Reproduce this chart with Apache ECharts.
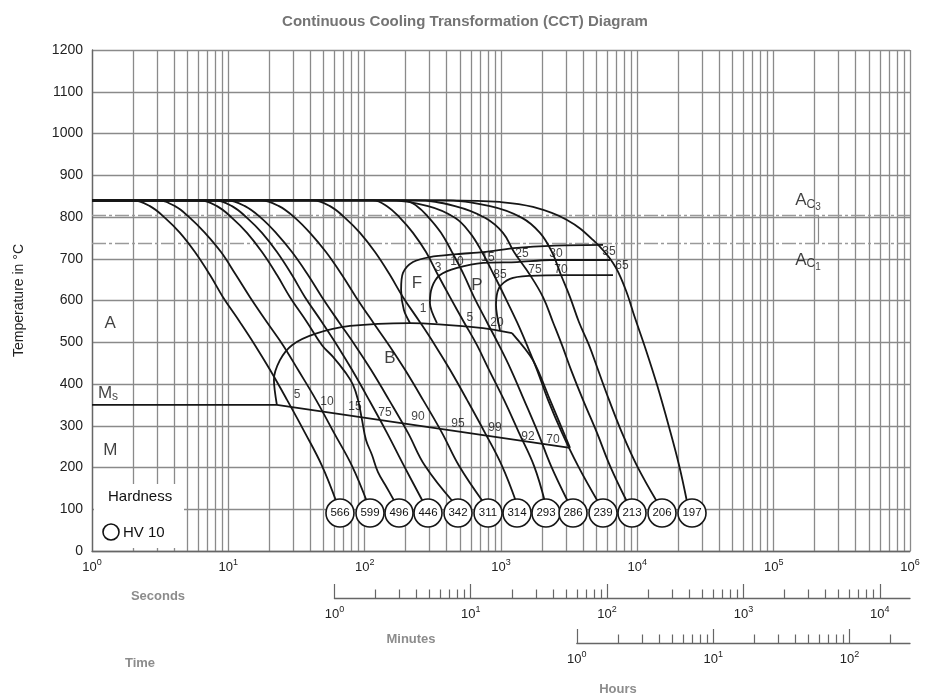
<!DOCTYPE html>
<html>
<head>
<meta charset="utf-8">
<script src="https://cdn.jsdelivr.net/npm/echarts@6.0.0/dist/echarts.min.js"></script>
<style>
html,body{margin:0;padding:0;background:#fff;}
#chart{width:930px;height:700px;}
</style>
</head>
<body>
<div id="chart"></div>
<script>
// ---------------- data ----------------
const chartTitle = 'Continuous Cooling Transformation (CCT) Diagram';
const yAxisTitle = 'Temperature in °C';
const tempMin = 0, tempMax = 1200, tempStep = 100;
const timeMin = 1, timeMax = 1e6;
const secondsPerMinute = 60, secondsPerHour = 3600;
const mantissas = [2, 3, 4, 5, 6, 7, 8, 9];

// hardness HV10 at the end of every cooling curve
const hardnessValues = [566, 599, 496, 446, 342, 311, 314, 293, 286, 239, 213, 206, 197];
const hardnessTimes = [65.9, 109.4, 178.6, 291.5, 483.7, 802.9, 1311, 2138, 3375, 5602, 9141, 15172, 25180];
const hardnessTemp = 91;

// cooling curves [time s, temperature °C]
const curve566 = [[1,840],[2.00,840],[2.66,826],[3.43,798],[4.42,762],[5.69,716],[7.34,661],[9.14,608],[12.18,548],[15.69,493],[20.21,434],[26.94,362],[36.51,283],[48.65,204],[62.0,118]];
const curve599 = [[1,840],[3.00,840],[4.06,826],[5.23,798],[6.74,762],[8.84,716],[11.38,661],[14.42,608],[19.21,548],[25.18,493],[32.44,434],[43.97,362],[59.60,283],[80.74,204],[104,118]];
const curve496 = [[1,840],[6.20,840],[8.26,826],[10.64,798],[13.71,762],[17.66,716],[22.75,661],[28.34,608],[37.77,548],[48.65,493],[58.6,465],[71.74,429],[82.14,398],[89.37,362],[95.61,314],[102.3,266],[113.2,230],[125.2,189],[145.8,151],[166,118]];
const curve446 = [[1,840],[7.98,840],[10.64,826],[13.71,798],[17.66,762],[22.75,716],[29.31,661],[36.51,608],[48.65,548],[62.69,493],[80.74,434],[107.6,362],[145.8,283],[194.3,204],[267.9,118]];
const curve342 = [[1,840],[9.78,840],[13.25,826],[17.37,798],[22.37,762],[29.31,716],[38.41,661],[48.65,608],[64.83,548],[84.95,493],[111.3,434],[150.8,362],[207.9,283],[277.1,204],[444.6,118]];
const curve311 = [[1,840],[17.37,840],[23.53,826],[30.83,798],[39.72,762],[52.05,716],[68.20,661],[86.41,608],[115.1,548],[150.8,493],[197.7,434],[267.9,362],[369.3,283],[492.0,204],[738.0,118]];
const curve314 = [[1,840],[41.80,840],[55.69,826],[71.74,798],[92.44,762],[119.1,716],[153.4,661],[191.1,608],[254.6,548],[328.0,493],[422.7,434],[563.2,362],[763.3,283],[1017,204],[1290,118]];
const curve293 = [[1,840],[115.1,840],[145.8,826],[181.6,798],[226.2,762],[281.8,716],[345.1,661],[422.7,608],[535.3,548],[666.8,493],[816.6,434],[1052,362],[1356,283],[1747,204],[2100,118]];
const curve286 = [[1,840],[194.3,840],[242.0,826],[296.4,798],[363.1,762],[437.1,716],[535.3,661],[633.9,608],[789.5,548],[967.0,493],[1184,434],[1475,362],[1869,283],[2327,204],[3102,118]];
const curve239 = [[1,840],[141.0,840],[291.5,826],[459.8,798],[592.5,762],[725.7,716],[888.5,661],[1070,608],[1311,548],[1551,493],[1837,434],[2212,362],[2803,283],[3672,204],[5147,118]];
const curve213 = [[1,840],[234.0,840],[459.8,826],[763.3,798],[1034,762],[1246,716],[1633,661],[2033,608],[2407,548],[2803,493],[3263,434],[3995,362],[5061,283],[6304,204],[8402,118]];
const curve206 = [[1,840],[357.0,840],[830.5,826],[1426,798],[1932,762],[2366,716],[2755,661],[3208,608],[3735,548],[4422,493],[5147,434],[6200,362],[7720,283],[9945,204],[13945,118]];
const curve197 = [[1,840],[422.7,840],[983.3,836],[1717,824],[3049,793],[4730,745],[6630,690],[8120,630],[9616,558],[11578,481],[13945,398],[17078,297],[20220,206],[23140,118]];
const coolingCurves = [curve566, curve599, curve496, curve446, curve342, curve311, curve314, curve293, curve286, curve239, curve213, curve206, curve197];

// transformation lines
const ac3Temp = 805, ac1Temp = 738;
const acMarkerTime = 211500;
const msLine = [[1,350],[22.7,350],[3208,247]];
const bainiteStart = [[22.7,350],[21.6,410],[23.9,457],[29.3,493],[43.2,520],[78.1,539],[215,546],[738,534],[1204,522]];
const bainiteEnd = [[1204,522],[1717,457],[2288,362],[3208,247]];
const ferriteStart = [[215,546],[194,577],[185,625],[191,666],[226,692],[301,704],[476,711],[738,716],[1311,726],[2288,731],[5602,733]];
const pearliteStart = [[339,546],[301,594],[312,632],[357,661],[476,678],[738,690],[1311,692],[2288,697],[6304,697]];
const pearliteFinish = [[983,529],[919,589],[967,630],[1164,652],[1633,659],[3049,661],[6630,661]];

// percentage labels
const ferriteLabels = ['1','3','10','15','25','30','35'];
const ferriteLabelTimes = [267.9, 345, 476, 803, 1426, 2532, 6197];
const ferriteLabelTemps = [580, 678, 692, 702, 711, 711, 718];
const pearliteLabels = ['5','20','85','75','70','65'];
const pearliteLabelTimes = [592, 935, 983, 1776, 2755, 7720];
const pearliteLabelTemps = [560, 548, 663, 673, 673, 683];
const msLabels = ['5','10','15','75','90','95','99','92','70'];
const msLabelTimes = [31.9, 52.9, 84.9, 141, 246, 484, 904, 1578, 2407];
const msLabelTemps = [374, 357, 345, 331, 321, 304, 295, 275, 266];
// phase region labels
const regionLabels = ['A', '{m|M}{s|s}', 'M', 'B', 'F', 'P', '{m|A}{c|C}{n|3}', '{m|A}{c|C}{n|1}'];
const regionTimes = [1.36, 1.31, 1.36, 153, 242, 667, 178600, 178600];
const regionTemps = [546, 378, 242, 462, 642, 637, 840, 697];

// ---------------- chart ----------------
const FONT = 'Liberation Sans, Arial, sans-serif';
const GRID = '#8a8a8a';
const INK = '#161616';

function minorValues(maxVal) {
  const out = [];
  for (let p = 1; p < maxVal; p *= 10) {
    for (const m of mantissas) { const v = m * p; if (v < maxVal) out.push(v); }
  }
  return out;
}
function majorValues(maxVal) {
  const out = [];
  for (let p = 1; p <= maxVal; p *= 10) out.push(p);
  return out;
}
const supRich = {
  b: { fontSize: 13, color: '#222', fontFamily: FONT },
  s: { fontSize: 9, color: '#222', fontFamily: FONT, padding: [0, 0, 9, 0] }
};
function supFormatter(v) {
  return '{b|10}{s|' + Math.round(Math.log10(v)) + '}';
}

const chart = echarts.init(document.getElementById('chart'), null, { renderer: 'canvas' });

const series = [];
series.push({
  type: 'lines', coordinateSystem: 'cartesian2d', xAxisIndex: 0, yAxisIndex: 0, z: 0, silent: true,
  lineStyle: { color: GRID, width: 1.3, opacity: 1 },
  data: minorValues(timeMax).map(v => ({ coords: [[v, tempMin], [v, tempMax]] }))
});
series.push({
  type: 'lines', coordinateSystem: 'cartesian2d', xAxisIndex: 0, yAxisIndex: 0, z: 1.5, silent: true,
  lineStyle: { color: '#9a9a9a', width: 1.4, type: [14, 3, 3, 3], opacity: 1 },
  data: [ { coords: [[timeMin, ac3Temp], [timeMax, ac3Temp]] }, { coords: [[timeMin, ac1Temp], [timeMax, ac1Temp]] } ]
});
series.push({
  type: 'lines', coordinateSystem: 'cartesian2d', xAxisIndex: 0, yAxisIndex: 0, z: 1.5, silent: true,
  lineStyle: { color: '#8a8a8a', width: 1.2, opacity: 1 },
  data: [ { coords: [[acMarkerTime, ac3Temp], [acMarkerTime, ac1Temp]] } ]
});
coolingCurves.forEach(c => series.push({
  type: 'line', data: c, xAxisIndex: 0, yAxisIndex: 0, smooth: 0.4, symbol: 'none', z: 3, silent: true,
  lineStyle: { color: INK, width: 1.8 }
}));
[msLine, bainiteStart, bainiteEnd, ferriteStart, pearliteStart, pearliteFinish].forEach((c, i) => series.push({
  type: 'line', data: c, xAxisIndex: 0, yAxisIndex: 0, smooth: i === 0 ? false : 0.3, symbol: 'none', z: 3, silent: true,
  lineStyle: { color: INK, width: 1.8 }
}));
series.push({
  type: 'scatter', xAxisIndex: 0, yAxisIndex: 0, z: 6, silent: true,
  symbol: 'circle', symbolSize: 28,
  itemStyle: { color: '#fff', borderColor: INK, borderWidth: 1.6, opacity: 1 },
  label: { show: true, position: 'inside', color: '#111', fontSize: 11.5, fontFamily: FONT, formatter: p => p.data.name },
  data: hardnessValues.map((h, i) => ({ name: String(h), value: [hardnessTimes[i], hardnessTemp] }))
});
function textSeries(texts, times, temps, size, rich) {
  return {
    type: 'scatter', xAxisIndex: 0, yAxisIndex: 0, z: 7, silent: true, symbolSize: 1,
    itemStyle: { color: 'rgba(0,0,0,0)' },
    label: { show: true, position: 'inside', color: '#111', fontSize: size, fontFamily: FONT, formatter: p => p.data.name, rich: rich || {} },
    data: texts.map((t, i) => ({ name: t, value: [times[i], temps[i]] }))
  };
}
series.push(textSeries(ferriteLabels, ferriteLabelTimes, ferriteLabelTemps, 12));
series.push(textSeries(pearliteLabels, pearliteLabelTimes, pearliteLabelTemps, 12));
series.push(textSeries(msLabels, msLabelTimes, msLabelTemps, 12));
series.push(textSeries(regionLabels, regionTimes, regionTemps, 17, {
  m: { fontSize: 17, color: '#111', fontFamily: FONT },
  s: { fontSize: 12, color: '#111', fontFamily: FONT, padding: [8, 0, 0, 0] },
  c: { fontSize: 12, color: '#111', fontFamily: FONT, padding: [8, 0, 0, 0] },
  n: { fontSize: 10, color: '#111', fontFamily: FONT, padding: [14, 0, 0, 0] }
}));
[[1, secondsPerMinute], [2, secondsPerHour]].forEach(([gi, div]) => {
  const maxV = timeMax / div;
  series.push({
    type: 'lines', coordinateSystem: 'cartesian2d', xAxisIndex: gi, yAxisIndex: gi, silent: true,
    lineStyle: { color: '#666', width: 1.2, opacity: 1 },
    data: majorValues(maxV).map(v => ({ coords: [[v, 0], [v, 1]] }))
      .concat(minorValues(maxV).map(v => ({ coords: [[v, 0], [v, 0.6]] })))
  });
});

function secondaryXAxis(gi, div) {
  return {
    gridIndex: gi, type: 'log', logBase: 10, min: 1, max: timeMax / div,
    axisLine: { show: true, onZero: false, lineStyle: { color: '#666', width: 1.3 } },
    axisTick: { show: false }, splitLine: { show: false },
    axisLabel: { margin: 7, formatter: supFormatter, rich: supRich, showMaxLabel: false, showMinLabel: true }
  };
}

const option = {
  animation: false,
  backgroundColor: '#fff',
  title: {
    text: chartTitle, left: 'center', top: 9,
    textStyle: { fontSize: 15, fontWeight: 'bold', color: '#747474', fontFamily: FONT }
  },
  grid: [
    { left: 92, top: 50, width: 818, height: 501 },
    { left: 334.4, top: 584, width: 575.6, height: 14 },
    { left: 576.8, top: 629, width: 333.2, height: 14 }
  ],
  xAxis: [
    {
      gridIndex: 0, type: 'log', logBase: 10, min: timeMin, max: timeMax,
      axisLine: { show: true, onZero: false, lineStyle: { color: '#666', width: 1.3 } },
      axisTick: { show: false },
      splitLine: { show: true, lineStyle: { color: GRID, width: 1.3 } },
      axisLabel: { margin: 7, formatter: supFormatter, rich: supRich, showMinLabel: true, showMaxLabel: true }
    },
    secondaryXAxis(1, secondsPerMinute),
    secondaryXAxis(2, secondsPerHour)
  ],
  yAxis: [
    {
      gridIndex: 0, type: 'value', min: tempMin, max: tempMax, interval: tempStep,
      name: yAxisTitle, nameLocation: 'middle', nameGap: 66, nameRotate: 90,
      nameTextStyle: { fontSize: 14, color: '#222', fontFamily: FONT },
      axisLine: { show: true, lineStyle: { color: '#666', width: 1.3 } },
      axisTick: { show: false },
      splitLine: { show: true, lineStyle: { color: GRID, width: 1.3 } },
      axisLabel: { fontSize: 14, color: '#222', fontFamily: FONT, margin: 9, formatter: v => String(v) }
    },
    { gridIndex: 1, type: 'value', min: 0, max: 1, show: false },
    { gridIndex: 2, type: 'value', min: 0, max: 1, show: false }
  ],
  graphic: [
    { type: 'rect', z: 1, shape: { x: 94, y: 484, width: 90, height: 64 }, style: { fill: '#fff' } },
    { type: 'text', z: 10, x: 108, y: 497, style: { text: 'Hardness', fontSize: 15, fill: '#111', fontFamily: FONT, verticalAlign: 'middle' } },
    { type: 'circle', z: 10, shape: { cx: 111, cy: 532, r: 8 }, style: { fill: 'none', stroke: '#111', lineWidth: 1.6 } },
    { type: 'text', z: 10, x: 123, y: 533, style: { text: 'HV 10', fontSize: 15, fill: '#111', fontFamily: FONT, verticalAlign: 'middle' } },
    { type: 'text', z: 10, x: 158, y: 596, style: { text: 'Seconds', fontSize: 13, fontWeight: 'bold', fill: '#8c8c8c', fontFamily: FONT, align: 'center', verticalAlign: 'middle' } },
    { type: 'text', z: 10, x: 411, y: 639, style: { text: 'Minutes', fontSize: 13, fontWeight: 'bold', fill: '#8c8c8c', fontFamily: FONT, align: 'center', verticalAlign: 'middle' } },
    { type: 'text', z: 10, x: 140, y: 663, style: { text: 'Time', fontSize: 13, fontWeight: 'bold', fill: '#8c8c8c', fontFamily: FONT, align: 'center', verticalAlign: 'middle' } },
    { type: 'text', z: 10, x: 618, y: 689, style: { text: 'Hours', fontSize: 13, fontWeight: 'bold', fill: '#8c8c8c', fontFamily: FONT, align: 'center', verticalAlign: 'middle' } }
  ],
  series: series
};
chart.setOption(option);
</script>
</body>
</html>
